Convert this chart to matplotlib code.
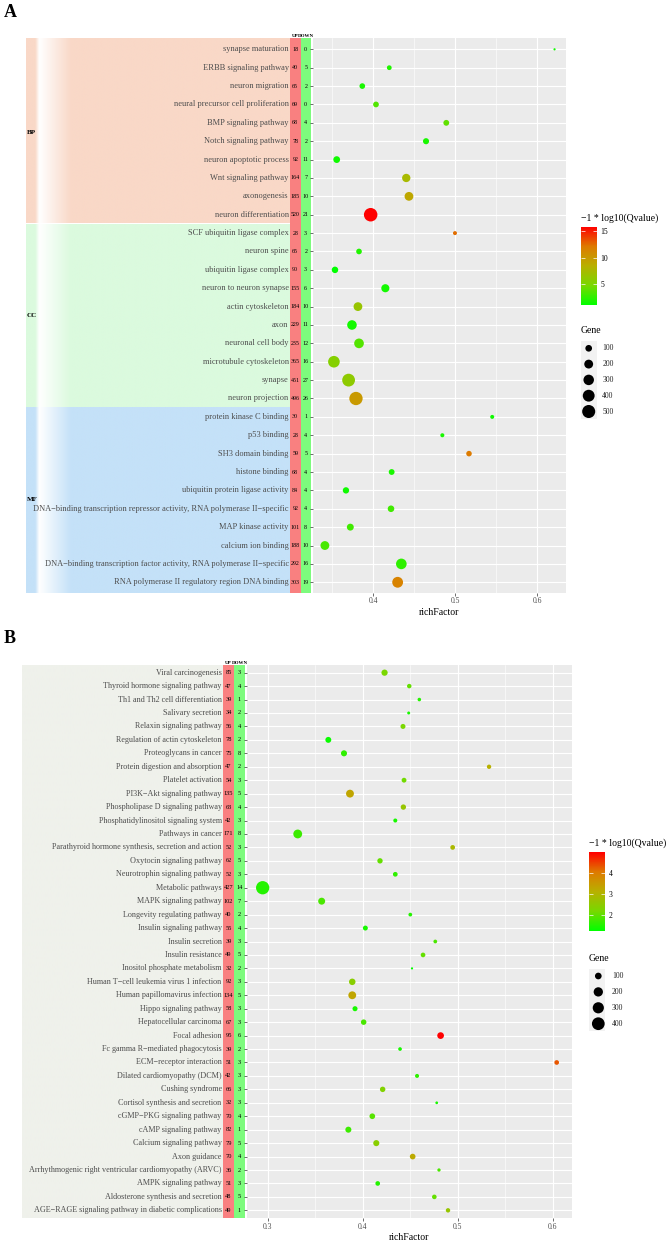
import numpy as np
import matplotlib
matplotlib.use("Agg")
import matplotlib.pyplot as plt
from matplotlib.colors import LinearSegmentedColormap, to_rgb
from matplotlib.patches import Rectangle

W, H = 670, 1243
plt.rcParams['font.family'] = ['Liberation Serif', 'DejaVu Serif']

# ---- panel A: GO terms ----
a_terms = ["synapse maturation", "ERBB signaling pathway", "neuron migration",
           "neural precursor cell proliferation", "BMP signaling pathway",
           "Notch signaling pathway", "neuron apoptotic process", "Wnt signaling pathway",
           "axonogenesis", "neuron differentiation",
           "SCF ubiquitin ligase complex", "neuron spine", "ubiquitin ligase complex",
           "neuron to neuron synapse", "actin cytoskeleton", "axon", "neuronal cell body",
           "microtubule cytoskeleton", "synapse", "neuron projection",
           "protein kinase C binding", "p53 binding", "SH3 domain binding", "histone binding",
           "ubiquitin protein ligase activity",
           "DNA\u2212binding transcription repressor activity, RNA polymerase II\u2212specific",
           "MAP kinase activity", "calcium ion binding",
           "DNA\u2212binding transcription factor activity, RNA polymerase II\u2212specific",
           "RNA polymerase II regulatory region DNA binding"]
a_cats = ["BP"] * 10 + ["CC"] * 10 + ["MF"] * 10
a_up = [18, 40, 65, 69, 68, 78, 92, 164, 185, 520,
        28, 65, 90, 155, 184, 229, 235, 365, 451, 496,
        30, 28, 59, 68, 84, 92, 101, 188, 292, 303]
a_down = [0, 5, 2, 0, 4, 2, 11, 7, 10, 21,
          3, 2, 3, 6, 10, 11, 12, 16, 27, 26,
          1, 4, 5, 4, 4, 4, 8, 10, 16, 19]
a_rich = [0.621, 0.4195, 0.3866, 0.4033, 0.489, 0.4643, 0.3554, 0.4402, 0.4435, 0.3968,
          0.4996, 0.3826, 0.3533, 0.4147, 0.3813, 0.374, 0.3826, 0.352, 0.3699, 0.3789,
          0.545, 0.4842, 0.5167, 0.4224, 0.3667, 0.4216, 0.372, 0.341, 0.4342, 0.4297]
a_q = [1.5, 2.0, 1.8, 3.5, 4.0, 1.8, 1.5, 7.5, 9.0, 15.8,
       12.5, 2.0, 1.0, 1.6, 6.5, 1.6, 3.6, 5.5, 6.0, 10.0,
       1.5, 1.8, 12.0, 1.8, 1.5, 3.0, 3.0, 3.2, 2.5, 11.5]

# ---- panel B: KEGG pathways ----
b_terms = ["Viral carcinogenesis", "Thyroid hormone signaling pathway",
           "Th1 and Th2 cell differentiation", "Salivary secretion",
           "Relaxin signaling pathway", "Regulation of actin cytoskeleton",
           "Proteoglycans in cancer", "Protein digestion and absorption",
           "Platelet activation", "PI3K\u2212Akt signaling pathway",
           "Phospholipase D signaling pathway", "Phosphatidylinositol signaling system",
           "Pathways in cancer", "Parathyroid hormone synthesis, secretion and action",
           "Oxytocin signaling pathway", "Neurotrophin signaling pathway",
           "Metabolic pathways", "MAPK signaling pathway", "Longevity regulating pathway",
           "Insulin signaling pathway", "Insulin secretion", "Insulin resistance",
           "Inositol phosphate metabolism", "Human T\u2212cell leukemia virus 1 infection",
           "Human papillomavirus infection", "Hippo signaling pathway",
           "Hepatocellular carcinoma", "Focal adhesion",
           "Fc gamma R\u2212mediated phagocytosis", "ECM\u2212receptor interaction",
           "Dilated cardiomyopathy (DCM)", "Cushing syndrome",
           "Cortisol synthesis and secretion", "cGMP\u2212PKG signaling pathway",
           "cAMP signaling pathway", "Calcium signaling pathway", "Axon guidance",
           "Arrhythmogenic right ventricular cardiomyopathy (ARVC)",
           "AMPK signaling pathway", "Aldosterone synthesis and secretion",
           "AGE\u2212RAGE signaling pathway in diabetic complications"]
b_up = [85, 47, 39, 34, 56, 78, 75, 47, 54, 135, 63, 42, 171, 52, 62, 52, 427, 102, 40, 55,
        39, 49, 32, 92, 134, 58, 67, 95, 39, 51, 42, 66, 32, 70, 82, 79, 70, 36, 51, 48, 49]
b_down = [3, 4, 1, 2, 4, 2, 8, 2, 3, 5, 4, 3, 8, 3, 5, 3, 14, 7, 2, 4,
          3, 5, 2, 3, 5, 3, 3, 6, 2, 3, 3, 3, 3, 4, 1, 5, 4, 2, 3, 5, 1]
b_rich = [0.423, 0.449, 0.4596, 0.4484, 0.4424, 0.3638, 0.3803, 0.533, 0.4435, 0.3866,
          0.4428, 0.4343, 0.3316, 0.4947, 0.4182, 0.4343, 0.2947, 0.3568, 0.4501, 0.4028,
          0.4764, 0.4635, 0.4519, 0.389, 0.389, 0.3919, 0.401, 0.482, 0.4393, 0.6042,
          0.4572, 0.421, 0.4779, 0.4101, 0.3849, 0.4143, 0.4526, 0.4803, 0.4158, 0.4754, 0.4898]
b_q = [2.2, 2.0, 1.5, 1.4, 2.2, 1.3, 1.6, 3.1, 2.1, 3.3, 2.6, 1.4, 1.7, 2.9, 2.0, 1.6, 1.5,
       1.8, 1.5, 1.4, 1.8, 2.0, 1.22, 2.4, 3.3, 1.4, 1.8, 4.97, 1.4, 4.3, 1.6, 2.3, 1.4, 1.9,
       1.7, 2.4, 3.2, 1.8, 1.5, 2.0, 2.6]

cmap = LinearSegmentedColormap.from_list(
    "qv", [(0.0, "#00FF00"), (0.25, "#78D800"), (0.5, "#B8B000"),
           (0.75, "#DE7A00"), (1.0, "#FF0000")])


def px_axes(fig, x0, y0, x1, y1):
    return fig.add_axes([x0 / W, 1 - y1 / H, (x1 - x0) / W, (y1 - y0) / H])


def dot_size(g, gmin, gmax, dmin, dmax):
    d = dmin + (dmax - dmin) * np.sqrt((np.asarray(g, float) - gmin) / (gmax - gmin))
    return (d * 0.72) ** 2


def band_image(color, width, fade):
    # horizontal gradient: coloured edge, white stripe, then back to colour
    x = np.linspace(0, width, 400)
    w = np.clip((x - 9) / 4, 0, 1) * np.clip(1 - (x - 13) / 32, 0, 1)
    if not fade:
        w = np.zeros_like(x)
    c = np.array(to_rgb(color))
    return (c[None, :] * (1 - w[:, None]) + w[:, None])[None, :, :]


def draw_panel(fig, ov, terms, up, down, rich, q, cats, cfg):
    n = len(terms)
    y = np.arange(n)
    gene = np.array(up) + np.array(down)
    ylim = (n - 1 + 0.6, -0.6)

    # left block with labels and UP / DOWN counts
    lx0, ly0, lx1, ly1 = cfg['lab_box']
    lab = px_axes(fig, lx0, ly0, lx1, ly1)
    lab.set_xlim(0, lx1 - lx0)
    lab.set_ylim(*ylim)
    lab.axis('off')
    tw = cfg['text_w']
    if cats is None:
        lab.imshow(band_image(cfg['bg'], tw, False), extent=(0, tw, ylim[0], ylim[1]),
                   aspect='auto', interpolation='bilinear')
    else:
        names = list(dict.fromkeys(cats))
        for k, c in enumerate(names):
            idx = [i for i, cc in enumerate(cats) if cc == c]
            top = -0.6 if k == 0 else idx[0] - 0.5 + 0.03
            bot = n - 0.4 if k == len(names) - 1 else idx[-1] + 0.5 - 0.03
            lab.imshow(band_image(cfg['band_colors'][c], tw, True), extent=(0, tw, bot, top),
                       aspect='auto', interpolation='bilinear')
            lab.text(0.5, (idx[0] + idx[-1]) / 2, c, ha='left', va='center',
                     fontsize=5, fontweight='bold')
    lab.set_ylim(*ylim)
    ux0, ux1, dx1 = tw, tw + cfg['col_w'], tw + 2 * cfg['col_w']
    lab.axvspan(ux0, ux1, color='#F98080', lw=0)
    lab.axvspan(ux1, dx1, color='#7DFB7D', lw=0)
    for i in range(n):
        lab.text(tw - 1.3, i, terms[i], ha='right', va='center', fontsize=cfg['fs'],
                 color='#4D4D4D')
        lab.text((ux0 + ux1) / 2, i, str(up[i]), ha='center', va='center',
                 fontsize=cfg['nfs'], color='black')
        lab.text((ux1 + dx1) / 2, i, str(down[i]), ha='center', va='center',
                 fontsize=cfg['nfs'], color='black')
    lab.text((ux0 + ux1) / 2, -0.6, "UP", ha='center', va='bottom', fontsize=3.6,
             fontweight='bold')
    lab.text((ux1 + dx1) / 2 + 0.5, -0.6, "DOWN", ha='center', va='bottom', fontsize=3.6,
             fontweight='bold')

    # main bubble plot
    ax = px_axes(fig, *cfg['box'])
    ax.set_facecolor('#EBEBEB')
    for s in ax.spines.values():
        s.set_visible(False)
    ax.set_xlim(*cfg['xlim'])
    ax.set_ylim(*ylim)
    ax.set_yticks(y)
    ax.set_yticklabels([])
    ax.set_xticks(cfg['xticks'])
    ax.set_xticklabels([f"{t:g}" for t in cfg['xticks']])
    ax.set_xticks(cfg['xminor'], minor=True)
    ax.set_axisbelow(True)
    ax.grid(which='major', color='white', lw=0.8)
    ax.grid(which='minor', axis='x', color='white', lw=0.4)
    ax.tick_params(which='minor', length=0)
    ax.tick_params(which='major', length=2, width=0.5, color='#333333', labelsize=5.5,
                   labelcolor='#4D4D4D', pad=1)
    gmin, gmax = gene.min(), gene.max()
    sc = ax.scatter(rich, y, s=dot_size(gene, gmin, gmax, *cfg['dots']), c=q, cmap=cmap,
                    vmin=min(q), vmax=max(q), edgecolors='none', zorder=3)
    ax.set_xlabel('richFactor', fontsize=7, labelpad=1.5)

    # colour bar
    cax = px_axes(fig, *cfg['cbar_box'])
    cb = fig.colorbar(sc, cax=cax, ticks=cfg['cticks'])
    cb.outline.set_visible(False)
    cax.tick_params(direction='in', length=3, width=0.5, color='white', left=True,
                    right=True, labelsize=5.5, pad=2.5)
    cx0, cy0 = cfg['cbar_box'][0], cfg['cbar_box'][1]
    ov.text(cx0, cy0 - 9, "\u22121 * log10(Qvalue)", fontsize=7, ha='left', va='center')

    # size legend
    gx, gy, step = cfg['gene_leg']
    vals = np.array(cfg['gene_vals'])
    ys = gy + step * np.arange(len(vals))
    ov.text(cx0, gy - 17.5, "Gene", fontsize=7, ha='left', va='center')
    ov.add_patch(Rectangle((cx0, ys[0] - 7.5), 15.7, ys[-1] - ys[0] + 15, color='#F2F2F2',
                           lw=0))
    ov.scatter(np.full(len(vals), gx), ys, s=dot_size(vals, gmin, gmax, *cfg['dots']),
               c='black', edgecolors='none')
    for v, yy in zip(vals, ys):
        ov.text(gx + 13.5, yy, str(v), fontsize=5.5, ha='left', va='center', color='#222222')


fig = plt.figure(figsize=(W / 100, H / 100), dpi=100)
ov = fig.add_axes([0, 0, 1, 1], zorder=10)
ov.set_xlim(0, W)
ov.set_ylim(H, 0)
ov.axis('off')

cfg_a = dict(lab_box=(26, 38.3, 311, 593.3), text_w=264, col_w=10.5, fs=6.0, nfs=4.3,
             band_colors={'BP': '#F9D8C7', 'CC': '#DBFADE', 'MF': '#C4E1F8'},
             box=(313, 38.3, 565.7, 593.3), xlim=(0.3265, 0.6346),
             xticks=[0.4, 0.5, 0.6], xminor=[0.35, 0.45, 0.55], dots=(2.2, 13.5),
             cbar_box=(581, 226.7, 596.7, 305.3), cticks=[5, 10, 15],
             gene_leg=(588.7, 348.3, 15.8), gene_vals=[100, 200, 300, 400, 500])
cfg_b = dict(lab_box=(22, 664.6, 245, 1218.4), text_w=201, col_w=11, fs=5.85, nfs=4.6,
             bg='#EFF1EB',
             box=(247, 664.6, 571.7, 1218.4), xlim=(0.2782, 0.62),
             xticks=[0.3, 0.4, 0.5, 0.6], xminor=[0.35, 0.45, 0.55], dots=(2.2, 13.3),
             cbar_box=(589, 852.3, 605, 931), cticks=[2, 3, 4],
             gene_leg=(598.3, 976, 15.9), gene_vals=[100, 200, 300, 400])

draw_panel(fig, ov, a_terms, a_up, a_down, a_rich, a_q, a_cats, cfg_a)
draw_panel(fig, ov, b_terms, b_up, b_down, b_rich, b_q, None, cfg_b)

ov.text(4, 12, "A", fontsize=13, fontweight='bold', ha='left', va='center')
ov.text(4, 638, "B", fontsize=13, fontweight='bold', ha='left', va='center')

fig.savefig("out.png", dpi=100)
